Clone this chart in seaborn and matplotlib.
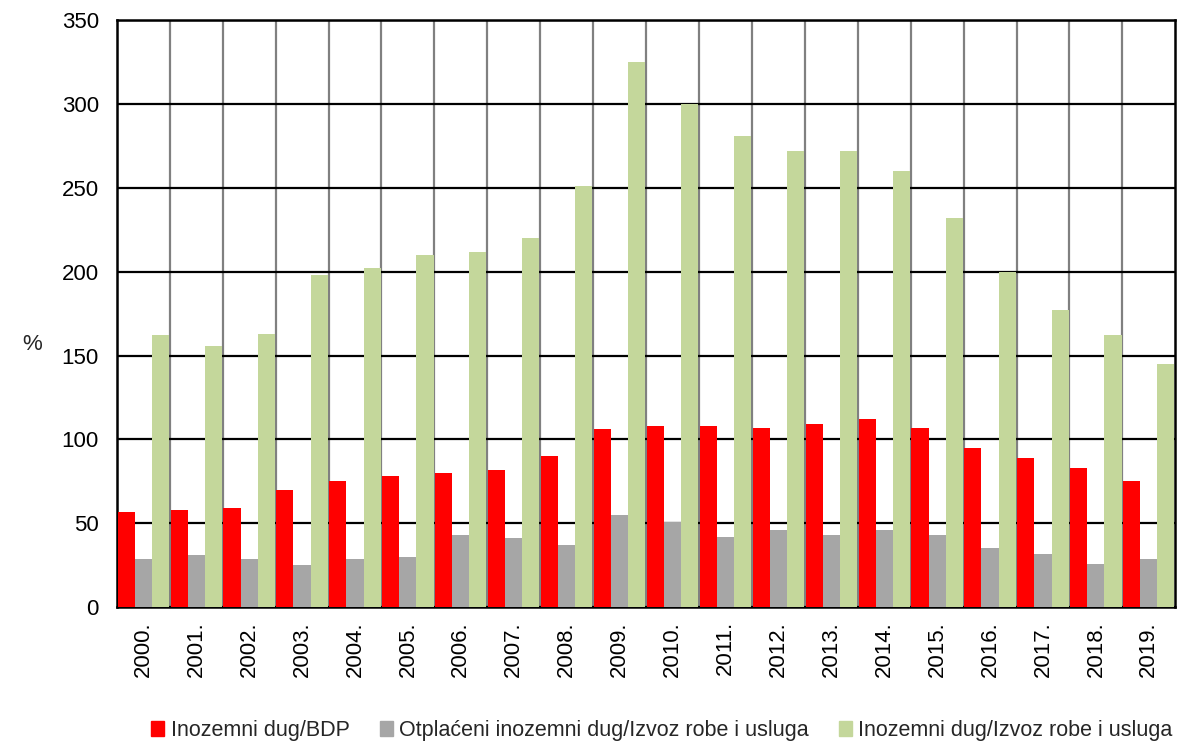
import matplotlib
matplotlib.use('Agg')
import matplotlib.pyplot as plt
import seaborn as sns
import pandas as pd
import numpy as np

godine = ['2000.', '2001.', '2002.', '2003.', '2004.', '2005.', '2006.', '2007.', '2008.', '2009.',
          '2010.', '2011.', '2012.', '2013.', '2014.', '2015.', '2016.', '2017.', '2018.', '2019.']

dug_bdp = [57, 58, 59, 70, 75, 78, 80, 82, 90, 106,
           108, 108, 107, 109, 112, 107, 95, 89, 83, 75]
otplaceni = [29, 31, 29, 25, 29, 30, 43, 41, 37, 55,
             51, 42, 46, 43, 46, 43, 35, 32, 26, 29]
dug_izvoz = [162, 156, 163, 198, 202, 210, 212, 220, 251, 325,
             300, 281, 272, 272, 260, 232, 200, 177, 162, 145]

serije = ['Inozemni dug/BDP',
          'Otplaćeni inozemni dug/Izvoz robe i usluga',
          'Inozemni dug/Izvoz robe i usluga']
boje = ['#FF0000', '#A6A6A6', '#C4D79B']

df = pd.DataFrame({
    'godina': godine * 3,
    'serija': [serije[0]] * 20 + [serije[1]] * 20 + [serije[2]] * 20,
    'vrijednost': dug_bdp + otplaceni + dug_izvoz,
})

sns.set_style('white')
plt.rcParams['font.family'] = ['Liberation Sans', 'DejaVu Sans']

fig, ax = plt.subplots(figsize=(11.8, 7.45), dpi=100)
fig.subplots_adjust(left=0.099, right=0.996, top=0.973, bottom=0.185)

sns.barplot(data=df, x='godina', y='vrijednost', hue='serija', palette=boje,
            width=0.97, gap=0, saturation=1, linewidth=0, edgecolor='none',
            ax=ax, legend=True, zorder=3)

ax.set_ylim(0, 350)
ax.set_xlim(-0.5, len(godine) - 0.5)
ax.set_yticks(range(0, 351, 50))
ax.set_xticks(np.arange(len(godine)))
ax.set_xticklabels(godine, rotation=90)
ax.set_xticks(np.arange(len(godine) - 1) + 0.5, minor=True)

ax.grid(axis='y', which='major', color='black', linewidth=1.6, zorder=0)
ax.grid(axis='x', which='minor', color='#808080', linewidth=1.6, zorder=0)
ax.set_axisbelow(True)

ax.tick_params(axis='both', which='both', length=0, labelsize=16, colors='black')
ax.tick_params(axis='y', pad=13)
ax.tick_params(axis='x', pad=10)
ax.set_xlabel('')
ax.set_ylabel('%', rotation=0, fontsize=16)
ax.yaxis.set_label_coords(-0.08, 0.43)

for s in ax.spines.values():
    s.set_visible(True)
    s.set_color('black')
    s.set_linewidth(1.8)

ax.get_legend().remove()
handles = [plt.Rectangle((0, 0), 1, 1, color=c) for c in boje]
fig.legend(handles, serije, loc='lower center', ncol=3, frameon=False,
           fontsize=15.5, handlelength=0.6, handleheight=0.7, handletextpad=0.3,
           columnspacing=1.4, borderpad=0.1, borderaxespad=0.1,
           bbox_to_anchor=(0.561, 0.0))

plt.savefig('out.png', dpi=100)
